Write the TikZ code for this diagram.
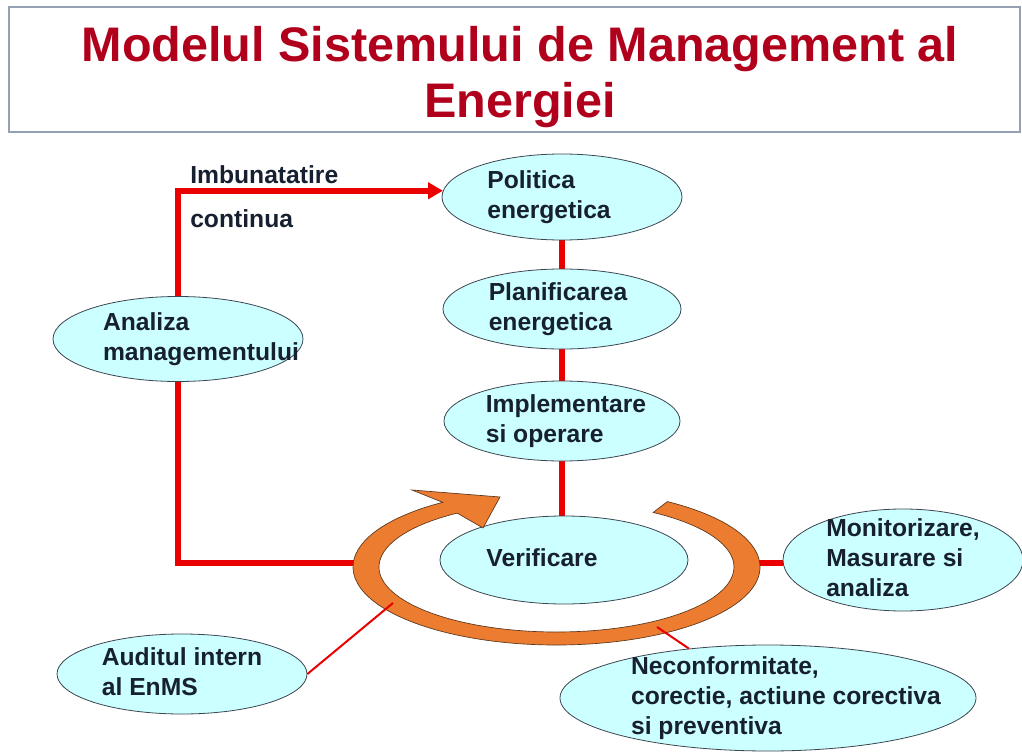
\documentclass[tikz,border=0pt]{standalone}
\usepackage{fontspec}
\setmainfont{Liberation Sans}
\usetikzlibrary{shapes.geometric,arrows.meta,backgrounds}
\definecolor{titlered}{RGB}{176,0,28}
\definecolor{boxedge}{RGB}{150,160,180}
\definecolor{bubfill}{RGB}{204,255,255}
\definecolor{bubedge}{RGB}{60,70,80}
\definecolor{bubtext}{RGB}{22,32,48}
\definecolor{linered}{RGB}{235,0,0}
\definecolor{ringorange}{RGB}{236,124,48}
\definecolor{ringedge}{RGB}{90,55,30}
% text block with padding left / right, to shift it inside its ellipse
\newcommand{\bubtxt}[3]{\begin{tabular}{@{\hspace{#1}}l@{\hspace{#2}}}#3\end{tabular}}

\begin{document}
\begin{tikzpicture}[x=0.75pt,y=-0.75pt,
  bubble/.style={ellipse,draw=bubedge,line width=0.6pt,fill=bubfill,
    inner sep=-30pt,text=bubtext,font=\bfseries\fontsize{18.5}{22.5}\selectfont},
  thickred/.style={draw=linered,line width=4.5pt},
  thinred/.style={draw=linered,line width=1.5pt},
  ringarrow/.style={fill=ringorange,draw=ringedge,line width=0.5pt}]
  \useasboundingbox (0,0) rectangle (1022,753);
  % titlu
  \draw[boxedge,line width=1.5pt] (9,7) rectangle (1020,132);
  \node[inner sep=0,align=center,text=titlered,
    font=\bfseries\fontsize{36.4}{42.5}\selectfont] (ttl) at (520,77)
    {Modelul Sistemului de Management al\\Energiei};
  % elipse
  \node[bubble,minimum width=180pt,minimum height=64.5pt] (pol) at (562,197)
    {\bubtxt{0pt}{19.5pt}{Politica\\energetica}};
  \node[bubble,minimum width=178.5pt,minimum height=60pt] (pla) at (562,309)
    {\bubtxt{0pt}{6pt}{Planificarea\\energetica}};
  \node[bubble,minimum width=177pt,minimum height=60pt] (imp) at (562,421)
    {\bubtxt{6pt}{0pt}{Implementare\\si operare}};
  \node[bubble,minimum width=186pt,minimum height=66pt] (ver) at (564,560)
    {\bubtxt{0pt}{33pt}{Verificare}};
  \node[bubble,minimum width=187.5pt,minimum height=63.75pt] (anl) at (178,339)
    {\bubtxt{34.5pt}{0pt}{Analiza\\managementului}};
  \node[bubble,minimum width=187.5pt,minimum height=60pt] (aud) at (182,674)
    {\bubtxt{0pt}{0pt}{Auditul intern\\al EnMS}};
  \node[bubble,minimum width=180pt,minimum height=76.5pt] (mon) at (903,560)
    {\bubtxt{0pt}{0pt}{Monitorizare,\\Masurare si\\analiza}};
  \node[bubble,minimum width=312pt,minimum height=79.5pt] (nec) at (768,698)
    {\bubtxt{27pt}{0pt}{Neconformitate,\\corectie, actiune corectiva\\si preventiva}};
  \node[anchor=west,align=left,inner sep=0,text=bubtext,
    font=\bfseries\fontsize{18.5}{33}\selectfont] (imb) at (190,197)
    {Imbunatatire\\continua};
  % inelul portocaliu
  \coordinate (ringc) at (556.5,567);
  \coordinate (ringW) at (356,563);
  \coordinate (ringE) at (757,563);
  \coordinate (ringSW) at (393,603);
  \coordinate (ringS) at (657,627);
  \filldraw[ringarrow] ([shift={(ringc)}]-57:203.5 and 78)
    arc[start angle=-57,end angle=236,x radius=203.5,y radius=78]
    -- (412,490) -- (500,497) -- (483,528)
    -- ([shift={(ringc)}]236:177.5 and 65)
    arc[start angle=236,end angle=-57,x radius=177.5,y radius=65] -- cycle;
  % legaturi
  \begin{scope}[on background layer]
    \draw[thickred,-{Triangle[length=11pt,width=12pt]}]
      (ringW) -| (anl.center) |- (pol.177);
    \draw[thickred] (pol) -- (pla);
    \draw[thickred] (pla) -- (imp);
    \draw[thickred] (imp.south) -- (imp.south |- ver.north);
    \draw[thickred] (ringE) -- (ringE -| mon.west);
  \end{scope}
  \draw[thinred] (aud.east) -- (ringSW);
  \draw[thinred] (ringS) -- (nec.148);
\end{tikzpicture}
\end{document}
